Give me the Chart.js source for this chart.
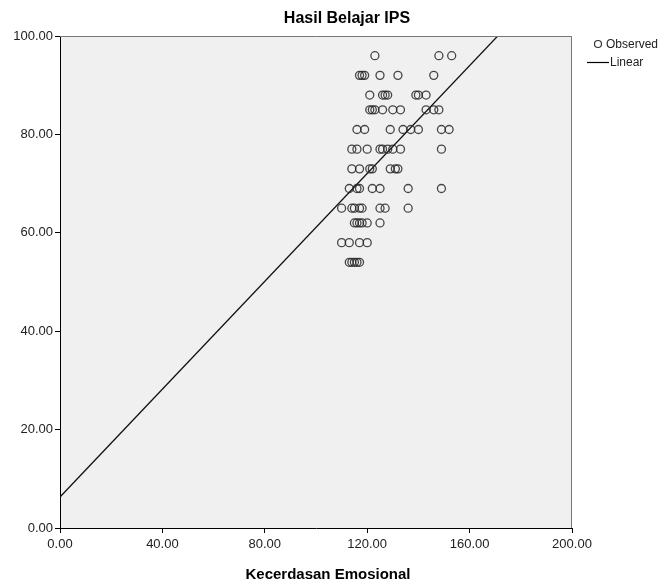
<!DOCTYPE html>
<html lang="id">
<head>
  <meta charset="UTF-8">
  <title>Hasil Belajar IPS</title>
  <script src="https://cdn.jsdelivr.net/npm/chart.js"></script>
  <style>
    body { margin: 0; background: #fff; }
    #wrap { width: 670px; height: 583px; }
  </style>
</head>
<body>
  <div id="wrap"><canvas id="myChart" width="670" height="583"></canvas></div>

  <script>
    // Kecerdasan Emosional (x) dan Hasil Belajar IPS (y)
    const emosional = [
      123, 148, 153,
      117, 118, 119, 125, 132, 146,
      121, 126, 127, 128, 139, 140, 143,
      121, 122, 123, 126, 130, 133, 143, 146, 148,
      116, 119, 129, 134, 137, 140, 149, 152,
      114, 116, 120, 125, 126, 128, 130, 133, 149,
      114, 117, 121, 122, 129, 131, 132,
      113, 116, 117, 122, 125, 136, 149,
      110, 114, 115, 117, 118, 125, 127, 136,
      115, 116, 117, 118, 120, 125,
      110, 113, 117, 120,
      113, 114, 115, 116, 117
    ];
    const hasilIPS = [
      96, 96, 96,
      92, 92, 92, 92, 92, 92,
      88, 88, 88, 88, 88, 88, 88,
      85, 85, 85, 85, 85, 85, 85, 85, 85,
      81, 81, 81, 81, 81, 81, 81, 81,
      77, 77, 77, 77, 77, 77, 77, 77, 77,
      73, 73, 73, 73, 73, 73, 73,
      69, 69, 69, 69, 69, 69, 69,
      65, 65, 65, 65, 65, 65, 65, 65,
      62, 62, 62, 62, 62, 62,
      58, 58, 58, 58,
      54, 54, 54, 54, 54
    ];
    const linearX = [0, 200];
    const linearY = [6.3, 115.9];
    const xTicks = [0, 40, 80, 120, 160, 200];
    const yTicks = [0, 20, 40, 60, 80, 100];

    const observed = emosional.map((x, i) => ({ x: x, y: hasilIPS[i] }));
    const linear = linearX.map((x, i) => ({ x: x, y: linearY[i] }));

    const FONT = 'Liberation Sans, Arial, sans-serif';

    const plotFrame = {
      id: 'plotFrame',
      beforeDraw(chart) {
        const a = chart.chartArea;
        const c = chart.ctx;
        c.save();
        c.fillStyle = '#f0f0f0';
        c.fillRect(a.left, a.top, a.right - a.left, a.bottom - a.top);
        c.restore();
      },
      afterDraw(chart) {
        const a = chart.chartArea;
        const c = chart.ctx;
        c.save();
        c.strokeStyle = '#777';
        c.lineWidth = 1;
        c.beginPath();
        c.moveTo(a.left, a.top + 0.5);
        c.lineTo(a.right - 0.5, a.top + 0.5);
        c.lineTo(a.right - 0.5, a.bottom);
        c.stroke();

        // judul dan judul sumbu x
        c.fillStyle = '#000';
        c.textAlign = 'center';
        c.textBaseline = 'middle';
        c.font = 'bold 16px ' + FONT;
        c.fillText('Hasil Belajar IPS', 347, 19);
        c.font = 'bold 15px ' + FONT;
        c.fillText('Kecerdasan Emosional', 328, 575);

        // legenda
        c.font = '12px ' + FONT;
        c.textAlign = 'left';
        c.strokeStyle = '#333';
        c.lineWidth = 1.2;
        c.beginPath();
        c.arc(598, 44, 3.5, 0, Math.PI * 2);
        c.stroke();
        c.fillStyle = '#222';
        c.fillText('Observed', 606, 45);
        c.strokeStyle = '#000';
        c.beginPath();
        c.moveTo(587, 62.5);
        c.lineTo(609, 62.5);
        c.stroke();
        c.fillText('Linear', 610, 63);
        c.restore();
      }
    };

    const ctx = document.getElementById('myChart').getContext('2d');
    const myChart = new Chart(ctx, {
      type: 'scatter',
      data: {
        datasets: [
          {
            label: 'Observed',
            data: observed,
            pointRadius: 4,
            pointHoverRadius: 4,
            pointBorderWidth: 1.3,
            pointBorderColor: 'rgba(40,40,40,0.85)',
            pointBackgroundColor: 'rgba(0,0,0,0)'
          },
          {
            label: 'Linear',
            type: 'line',
            data: linear,
            borderColor: '#111',
            borderWidth: 1.3,
            pointRadius: 0,
            fill: false,
            tension: 0
          }
        ]
      },
      options: {
        responsive: false,
        animation: false,
        layout: { padding: { top: 36, right: 98, left: 0, bottom: 0 } },
        plugins: {
          legend: { display: false },
          title: { display: false },
          tooltip: { enabled: false }
        },
        scales: {
          x: {
            type: 'linear',
            min: 0,
            max: 200,
            afterBuildTicks(scale) { scale.ticks = xTicks.map(v => ({ value: v })); },
            afterFit(scale) { scale.height = 55; },
            border: { color: '#000', width: 1 },
            grid: { drawOnChartArea: false, drawTicks: true, tickLength: 5, color: '#000' },
            ticks: {
              color: '#222',
              padding: 4,
              maxRotation: 0,
              font: { family: FONT, size: 13 },
              callback: v => v.toFixed(2)
            }
          },
          y: {
            type: 'linear',
            min: 0,
            max: 100,
            afterBuildTicks(scale) { scale.ticks = yTicks.map(v => ({ value: v })); },
            afterFit(scale) { scale.width = 60; },
            border: { color: '#000', width: 1 },
            grid: { drawOnChartArea: false, drawTicks: true, tickLength: 5, color: '#000' },
            ticks: {
              color: '#222',
              padding: 2,
              font: { family: FONT, size: 13 },
              callback: v => v.toFixed(2)
            }
          }
        }
      },
      plugins: [plotFrame]
    });
  </script>
</body>
</html>
